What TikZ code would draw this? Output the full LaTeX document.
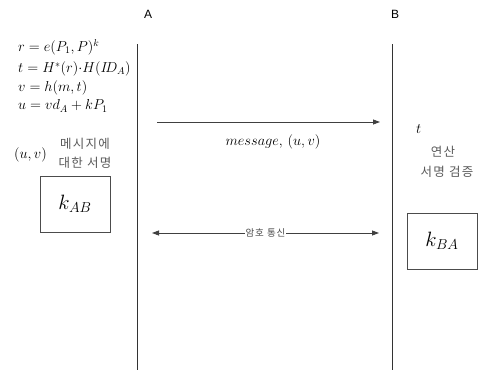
\documentclass[tikz,border=0pt]{standalone}
\usepackage{amsmath}
\usepackage{fontspec}
\newfontfamily\hangul[LetterSpace=10]{Noto Sans CJK KR}
\newfontfamily\arial{Liberation Sans}
\usetikzlibrary{arrows.meta}

\begin{document}
\begin{tikzpicture}[x=1pt,y=-1pt,
		party/.style={font=\arial\fontsize{12}{14}\selectfont},
		formula/.style={anchor=west,inner sep=0pt,font=\fontsize{14.4}{17}\selectfont},
		hangultext/.style={font=\hangul\fontsize{12.5}{19}\selectfont,text=black!65,align=center},
		keybox/.style={draw=black!70,minimum width=70pt,minimum height=56pt,font=\fontsize{20.74}{24}\selectfont},
		msg/.style={draw=black!75,thick,arrows={-Triangle[length=7pt,width=5pt]}}]
		
		\useasboundingbox (0,0) rectangle (484,370);
		
		%parteien
		\node[party] (partyA) at (148,14) {A};
		\node[party] (partyB) at (395,14) {B};
		\foreach \name/\x in {A/137,B/392}{
			\coordinate (top\name) at (\x,44);
			\coordinate (bottom\name) at (\x,370);
			\draw[black!80,semithick] (top\name) -- (bottom\name);
		}
		
		%signatur bei A
		\node[formula] (eqR) at (18,47) {$r=e(P_1,P)^k$};
		\node[formula] (eqT) at (18,69) {$t=H^{*}(r){\cdot}H(I\!D_A)$};
		\node[formula] (eqV) at (18,88) {$v=h(m,t)$};
		\node[formula] (eqU) at (18,106) {$u=vd_A+kP_1$};
		\node[formula] (sigUV) at (14,155) {$(u,v)$};
		\node[hangultext] (sigNote) at (85,153) {메시지에\\대한 서명};
		\node[keybox] (keyAB) at (75,204) {$k_{AB}$};
		
		%verifikation bei B
		\node[formula] (tB) at (416,129) {$t$};
		\node[hangultext] (calcNote) at (443,152) {연산};
		\node[hangultext] (verifyNote) at (447,172) {서명 검증};
		\node[keybox] (keyBA) at (442,241) {$k_{BA}$};
		
		%nachrichten
		\coordinate (msgFrom) at (157,122);
		\coordinate (msgTo) at (380,122);
		\draw[msg] (msgFrom) -- (msgTo);
		\node[font=\fontsize{14.4}{18}\selectfont] (msgLabel) at (273,142) {$message,\,(u,v)$};
		
		\coordinate (chanL) at (152,233);
		\coordinate (chanR) at (379,233);
		\draw[msg,arrows={Triangle[length=7pt,width=5pt]-Triangle[length=7pt,width=5pt]}] (chanL) -- node[fill=white,inner sep=1pt,text=black!70,font=\hangul\fontsize{9.5}{11}\selectfont] (chanLabel) {암호 통신} (chanR);
		
	\end{tikzpicture}
\end{document}
